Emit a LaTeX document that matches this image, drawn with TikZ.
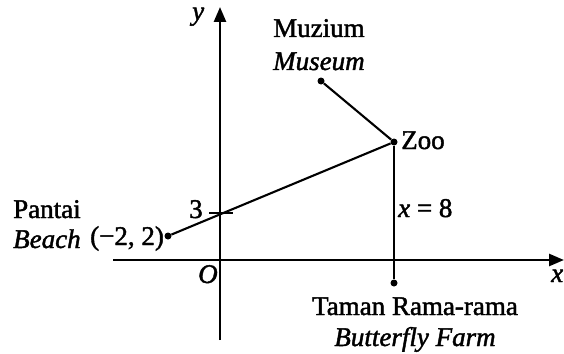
\documentclass[tikz,border=0pt]{standalone}
\usepackage{fontspec}
\setmainfont{Liberation Serif}[FakeBold=1.6,ItalicFeatures={FakeBold=1.6}]
\usetikzlibrary{arrows.meta}
\begin{document}
\begin{tikzpicture}[x=1pt,y=-1pt,
  font=\fontsize{27}{32}\selectfont,
  axis/.style={line width=2.6pt,-{Triangle[length=15pt,width=12pt]}},
  seg/.style={line width=2.1pt},
  thinseg/.style={line width=1.8pt},
  pt/.style={circle,fill,inner sep=0pt,minimum size=7pt},
  lbl/.style={inner sep=0pt,anchor=base west}]
\clip (0,0) rectangle (564,353);
\coordinate (xl) at (113,260);
\coordinate (xr) at (564,260);
\coordinate (yb) at (220,340);
\coordinate (yt) at (220,7);
\draw[axis] (xl) -- (xr);
\draw[axis] (yb) -- (yt);
% points
\node[pt] (beach) at (168,236) {};
\node[pt] (zoo) at (394,142) {};
\node[pt] (museum) at (321,81) {};
\node[pt] (farm) at (394,283) {};
% tick at 3
\coordinate (t1) at (209,213);
\coordinate (t2) at (233,213);
\draw[seg] (t1) -- (t2);
% connectors
\draw[seg] (beach) -- (zoo);
\draw[seg] (museum) -- (zoo);
\draw[thinseg] (zoo) -- (farm);
% labels
\node[lbl] (ylab) at (192,20) {\textit{y}};
\node[lbl] (xlab) at (551,282) {\textit{x}};
\node[lbl] (olab) at (198,283) {\textit{O}};
\node[lbl] (three) at (189,218) {3};
\node[lbl] (muz) at (273,37) {Muzium};
\node[lbl] (mus) at (273,70) {\textit{Museum}};
\node[lbl] (zool) at (401,149) {Zoo};
\node[lbl] (x8) at (398,217) {\textit{x} = 8};
\node[lbl] (pan) at (13,218) {Pantai};
\node[lbl] (bea) at (13,248) {\textit{Beach}};
\node[lbl] (coord) at (90,245) {(−2, 2)};
\node[inner sep=0pt,anchor=base] (taman) at (415,315) {Taman Rama-rama};
\node[inner sep=0pt,anchor=base] (bfarm) at (415,346) {\textit{Butterfly Farm}};
\end{tikzpicture}
\end{document}
